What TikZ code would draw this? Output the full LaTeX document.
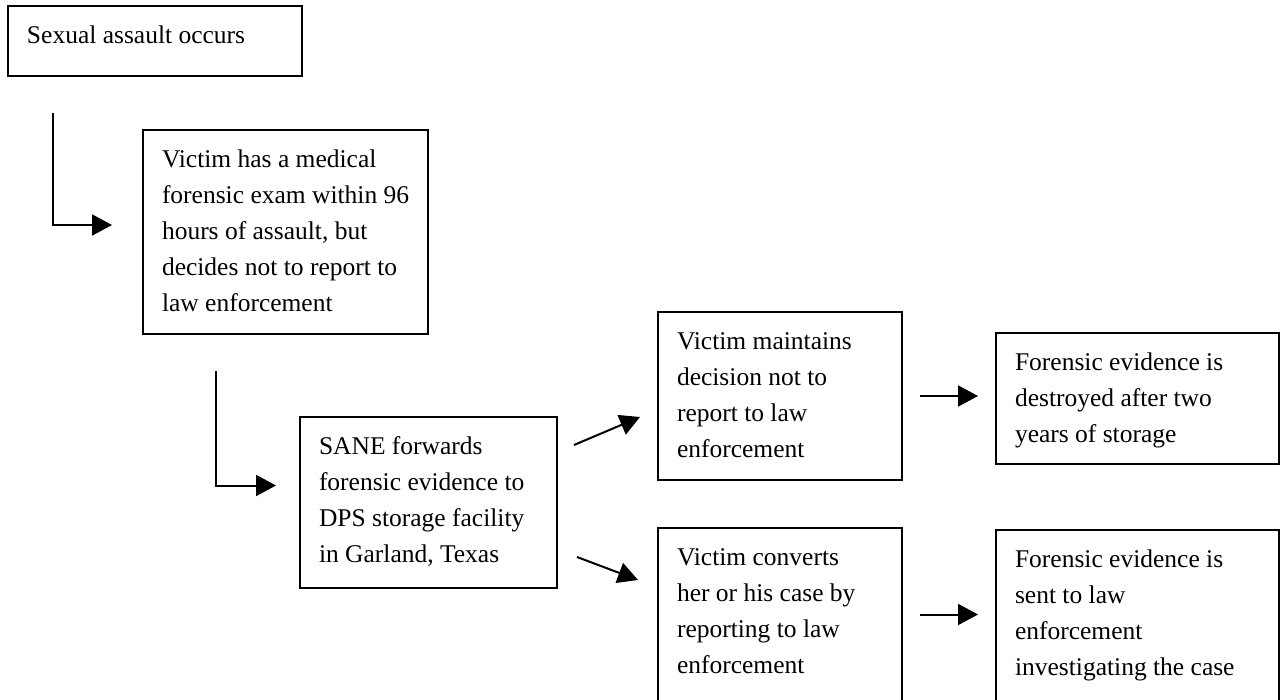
\documentclass[tikz,border=0pt]{standalone}
\usepackage{fontspec}
\setmainfont{Liberation Serif}
\usetikzlibrary{arrows.meta}

\begin{document}
\begin{tikzpicture}[x = 1pt, y = -1pt, > = {Triangle[length = 20pt, width = 21pt]},
	box/.style = {draw, line width = 1.8pt, anchor = north west, inner xsep = 19pt, inner ysep = 12pt, outer sep = 0pt, font = \fontsize{25.5}{36}\selectfont},
	arrow/.style = {->, line width = 2pt}]

	% Page
	
	\path [use as bounding box, fill = white] (0, 0) rectangle (1281, 700);
	
	% Steps
	
	\node [box] (occurs) at (8, 6) {\parbox[t][46pt][t]{256pt}{\strut Sexual assault occurs}};
	\node [box] (exam) at (143, 130) {\parbox[t][180pt][t]{247pt}{\strut Victim has a medical\\\mbox{forensic exam within 96}\\hours of assault, but\\decides not to report to\\law enforcement}};
	\node [box] (sane) at (300, 417) {\parbox[t][147pt][t]{219pt}{\strut SANE forwards\\forensic evidence to\\DPS storage facility\\in Garland, Texas}};
	\node [box] (maintains) at (658, 312) {\parbox[t][144pt][t]{206pt}{\strut Victim maintains\\decision not to\\report to law\\enforcement}};
	\node [box] (destroyed) at (996, 333) {\parbox[t][107pt][t]{245pt}{\strut Forensic evidence is\\destroyed after two\\years of storage}};
	\node [box] (converts) at (658, 528) {\parbox[t][149pt][t]{206pt}{\strut Victim converts\\her or his case by\\reporting to law\\enforcement}};
	\node [box] (sent) at (996, 530) {\parbox[t][147pt][t]{245pt}{\strut Forensic evidence is\\sent to law\\enforcement\\investigating the case}};
	
	% Arrows
	
	\coordinate (drop1) at (53, 113);
	\coordinate (drop2) at (216, 371);
	
	\draw [arrow] (drop1) |- ([xshift = -31pt, yshift = 7pt]exam.west);
	\draw [arrow] (drop2) |- ([xshift = -24pt, yshift = 17pt]sane.west);
	\draw [arrow] ([xshift = 17pt, yshift = -28pt]sane.north east) -- ([xshift = -18pt, yshift = -105pt]maintains.north west);
	\draw [arrow] ([xshift = 20pt, yshift = 31pt]sane.south east) -- ([xshift = -20pt, yshift = -52pt]converts.north west);
	\draw [arrow] ([xshift = 18pt]maintains.east) -- ([xshift = -18pt]maintains.east -| destroyed.west);
	\draw [arrow] ([xshift = 18pt]converts.east) -- ([xshift = -18pt]converts.east -| sent.west);

\end{tikzpicture}
\end{document}
